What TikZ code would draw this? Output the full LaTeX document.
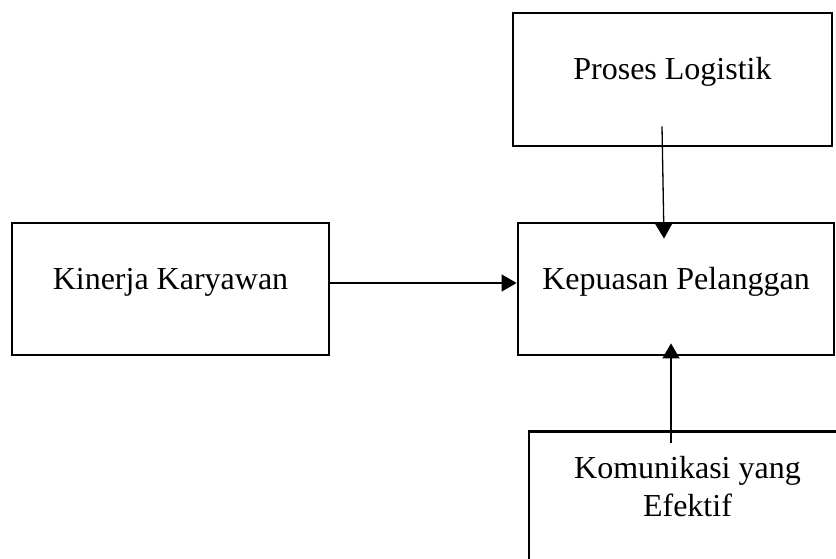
\documentclass[tikz,border=0pt]{standalone}
\usepackage{fontspec}
\setmainfont{Liberation Serif}
\usetikzlibrary{arrows.meta,positioning}

\begin{document}
\begin{tikzpicture}[->,>={Triangle[length=15pt,width=17pt]},x=1pt,y=1pt,semithick]
	\tikzstyle{kotak}=[rectangle, draw=black, line width=2.8pt, inner sep=0pt, font=\fontsize{32}{38}\selectfont, minimum width=317pt, text height=66pt, text depth=66pt]
	\tikzstyle{every edge}=[draw=black, line width=1.3pt]
	
	\useasboundingbox (0,0) rectangle (836,-559);
	
	\node[kotak, minimum width=319pt, text height=66.5pt, text depth=66.5pt] (proses) at (672.5,-79.5) {Proses Logistik};
	\node[kotak] (kinerja) at (170.5,-289) {Kinerja Karyawan};
	\node[kotak, minimum width=316pt] (kepuasan) at (676,-289) {Kepuasan Pelanggan};
	\node[kotak, anchor=north, align=center, text height=85pt, text depth=60pt] (komunikasi) at (687.5,-430) {Komunikasi yang\\Efektif};
	
	\path ([xshift=-10.5pt,yshift=21pt]proses.south) edge ([xshift=-12pt,yshift=-17pt]kepuasan.north);
	\path ([yshift=6pt]kinerja.east) edge ([yshift=6pt]kepuasan.west);
	\path ([xshift=-16.5pt,yshift=-13pt]komunikasi.north) edge ([xshift=-5pt,yshift=13pt]kepuasan.south);
	
\end{tikzpicture}
\end{document}
